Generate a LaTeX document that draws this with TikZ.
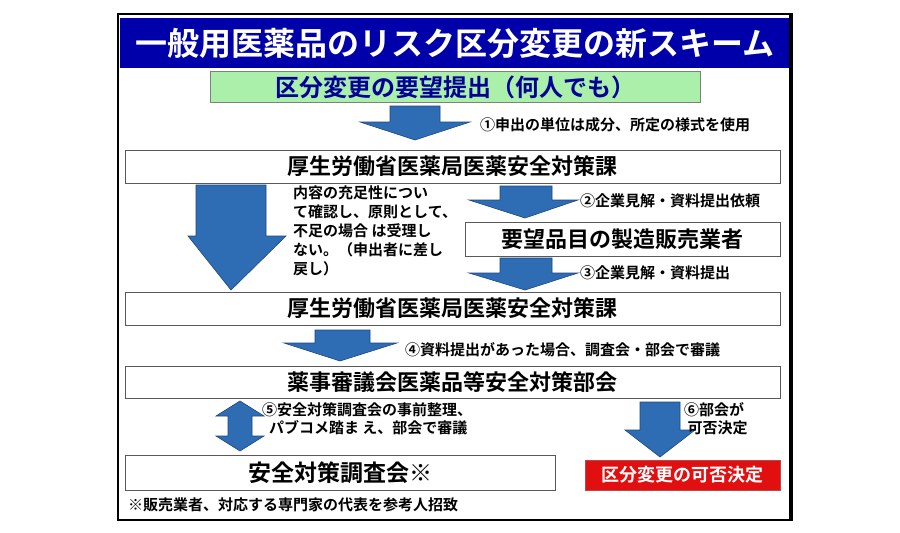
\documentclass[tikz,border=0pt]{standalone}
\usepackage{fontspec}
\setmainfont{Noto Sans CJK JP}[BoldFont={Noto Sans CJK JP Bold}]
\definecolor{arrfill}{RGB}{46,109,180}
\definecolor{arrdraw}{RGB}{30,70,130}
\definecolor{titlebg}{RGB}{0,0,170}
\definecolor{greenbg}{RGB}{170,240,170}
\definecolor{navytext}{RGB}{0,0,150}
\definecolor{redbg}{RGB}{225,15,15}
\begin{document}
\begin{tikzpicture}[x=1pt,y=-1pt,
 box/.style={draw=gray!70!black,line width=1pt,fill=white,font=\bfseries\fontsize{22}{24}\selectfont,inner sep=0pt},
 lbl/.style={font=\bfseries\fontsize{15}{18}\selectfont,anchor=west,inner sep=0pt},
 arr/.style={fill=arrfill,draw=arrdraw,line width=0.6pt}]
\useasboundingbox (0,0) rectangle (900,533);
\fill[white] (0,0) rectangle (900,533);
\draw[line width=2pt] (118,14) rectangle (792,520);
\fill[black] (789,14) rectangle (793,520);
\fill[titlebg] (120,18) rectangle (789,68);
\node[text=white,font=\bfseries\fontsize{32}{34}\selectfont] (title) at (455,43) {一般用医薬品のリスク区分変更の新スキーム};
\node[box,fill=greenbg,draw=gray,minimum width=490,minimum height=31,text=navytext,font=\bfseries\fontsize{24}{26}\selectfont] (req) at (455,87) {区分変更の要望提出（何人でも）};
\draw[arr] (390,106) -- (440,106) -- (440,122) -- (470,122) -- (415,140) -- (360,122) -- (390,122) -- cycle;
\node[lbl] (l1) at (480,125) {①申出の単位は成分、所定の様式を使用};
\node[box,minimum width=655,minimum height=33] (mhlw1) at (452.5,166.5) {厚生労働省医薬局医薬安全対策課};
\draw[arr] (196,185) -- (266,185) -- (266,236) -- (286,236) -- (231,290) -- (188,236) -- (196,236) -- cycle;
\node[font=\bfseries\fontsize{15}{19}\selectfont,anchor=north west,align=left,inner sep=0pt] (note) at (293,186) {内容の充足性につい\\て確認し、原則として、\\不足の場合 は受理し\\ない。（申出者に差し\\戻し）};
\draw[arr] (500,186) -- (552,186) -- (552,200) -- (578,200) -- (525,218) -- (469,200) -- (500,200) -- cycle;
\node[lbl] (l2) at (580,201) {②企業見解・資料提出依頼};
\node[box,minimum width=315,minimum height=34] (maker) at (622.5,239) {要望品目の製造販売業者};
\draw[arr] (500,258) -- (552,258) -- (552,273) -- (578,273) -- (525,290) -- (469,273) -- (500,273) -- cycle;
\node[lbl] (l3) at (580,273) {③企業見解・資料提出};
\node[box,minimum width=655,minimum height=33] (mhlw2) at (452.5,308.5) {厚生労働省医薬局医薬安全対策課};
\draw[arr] (315,330) -- (370,330) -- (370,343) -- (397,343) -- (340,361) -- (284,343) -- (315,343) -- cycle;
\node[lbl] (l4) at (405,350) {④資料提出があった場合、調査会・部会で審議};
\node[box,minimum width=655,minimum height=32] (pafsc) at (452.5,382) {薬事審議会医薬品等安全対策部会};
\draw[arr] (240,401) -- (264,416) -- (252,416) -- (252,436) -- (264,436) -- (240,451) -- (216,436) -- (228,436) -- (228,416) -- (216,416) -- cycle;
\node[lbl,anchor=north west,align=left] (l5) at (262,402) {⑤安全対策調査会の事前整理、\\\ \ パブコメ踏ま え、部会で審議};
\draw[arr] (640,402) -- (680,402) -- (680,430) -- (695,430) -- (660,457) -- (625,430) -- (640,430) -- cycle;
\node[lbl,anchor=north west,align=left] (l6) at (684,402) {⑥部会が\\\ 可否決定};
\node[box,minimum width=430,minimum height=35,font=\bfseries\fontsize{23}{25}\selectfont] (comm) at (340,472.5) {安全対策調査会※};
\node[box,fill=redbg,draw=gray!60!red,text=white,minimum width=195,minimum height=30,font=\bfseries\fontsize{18}{20}\selectfont] (dec) at (682.5,475) {区分変更の可否決定};
\node[lbl] (foot) at (128,505) {※販売業者、対応する専門家の代表を参考人招致};
\end{tikzpicture}
\end{document}
